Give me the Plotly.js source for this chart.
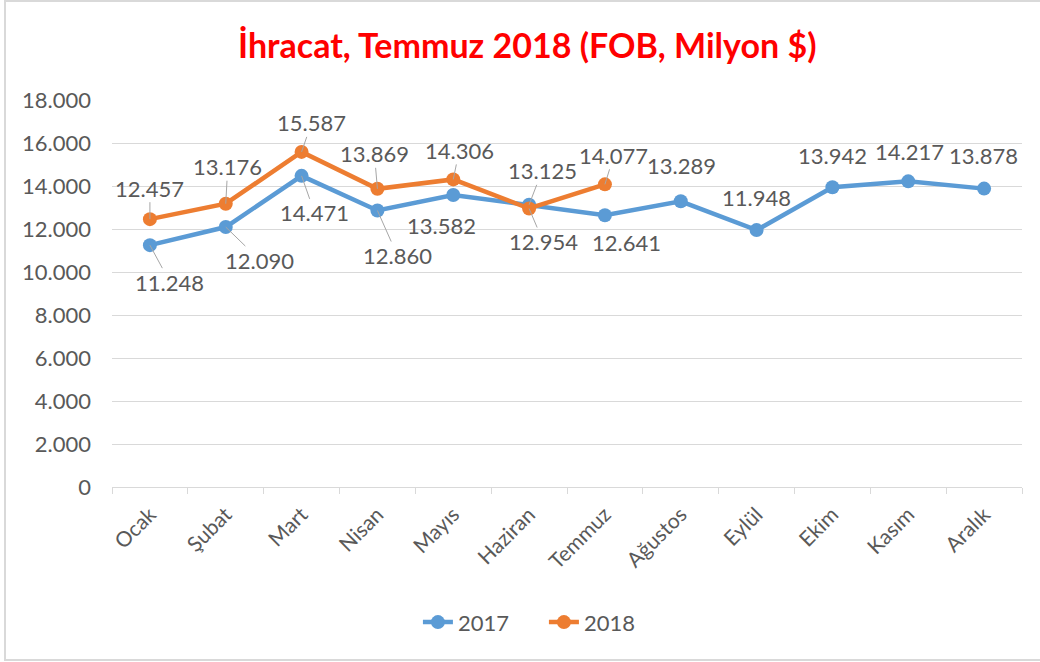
<!DOCTYPE html>
<html>
<head>
<meta charset="utf-8">
<script src="https://cdn.plot.ly/plotly-3.0.1.min.js"></script>
<style>
  html, body { margin: 0; padding: 0; background: #ffffff; overflow: hidden; }
  #chart { position: absolute; left: 0; top: 0; width: 1040px; height: 662px; }
  #frame { position: absolute; left: 4px; top: 0; width: 1100px; height: 661px;
           border: 2px solid #d9d9d9; box-sizing: border-box; pointer-events: none; }
</style>
</head>
<body>
<div id="chart"></div>
<div id="frame"></div>
<script>
const months = ["Ocak", "Şubat", "Mart", "Nisan", "Mayıs", "Haziran", "Temmuz", "Ağustos", "Eylül", "Ekim", "Kasım", "Aralık"];
const values2017 = [11248, 12090, 14471, 12860, 13582, 13125, 12641, 13289, 11948, 13942, 14217, 13878];
const months2018 = ["Ocak", "Şubat", "Mart", "Nisan", "Mayıs", "Haziran", "Temmuz"];
const values2018 = [12457, 13176, 15587, 13869, 14306, 12954, 14077];
const yTickVals = [0, 2000, 4000, 6000, 8000, 10000, 12000, 14000, 16000, 18000];
const yTickText = ["0", "2.000", "4.000", "6.000", "8.000", "10.000", "12.000", "14.000", "16.000", "18.000"];

// label placement (pixel offsets from point to label centre) and leader-line flags
const off2017 = [[20, 37, 1], [34, 33, 1], [13, 37, 1], [20, 45, 1], [-12, 31, 0], [13, -34, 1],
                 [22, 27, 0], [1, -36, 0], [0, -33, 0], [0, -32, 0], [1, -30, 0], [-1, -33, 0]];
const off2018 = [[0, -31, 1], [2, -37, 1], [10, -29, 1], [-3, -35, 1], [6, -29, 1], [14, 33, 1], [9, -29, 1]];

function fmt(v) { return v.toLocaleString('de-DE'); }

const labelFont = { family: "Lato, 'Open Sans', sans-serif", size: 22, color: "#595959" };
const annotations = [];
function addLabels(xs, ys, offs) {
  xs.forEach((x, i) => {
    const [dx, dy, lead] = offs[i];
    if (lead) {
      annotations.push({ x: x, y: ys[i], xref: 'x', yref: 'y', text: fmt(ys[i]),
        showarrow: true, arrowhead: 0, arrowwidth: 1, arrowcolor: '#a6a6a6', standoff: 0,
        ax: dx, ay: dy, font: labelFont, borderpad: 0 });
    } else {
      annotations.push({ x: x, y: ys[i], xref: 'x', yref: 'y', text: fmt(ys[i]),
        showarrow: false, xshift: dx, yshift: -dy, font: labelFont });
    }
  });
}
addLabels(months, values2017, off2017);
addLabels(months2018, values2018, off2018);

const traces = [
  { x: months, y: values2017, name: "2017", type: 'scatter', mode: 'lines+markers',
    line: { color: '#5b9bd5', width: 4.5 }, marker: { color: '#5b9bd5', size: 14 }, hoverinfo: 'none' },
  { x: months2018, y: values2018, name: "2018", type: 'scatter', mode: 'lines+markers',
    line: { color: '#ed7d31', width: 4.5 }, marker: { color: '#ed7d31', size: 14 }, hoverinfo: 'none' }
];

const layout = {
  width: 1040, height: 662,
  margin: { l: 112, r: 18, t: 100, b: 175 },
  paper_bgcolor: '#ffffff', plot_bgcolor: '#ffffff',
  font: { family: "Lato, 'Open Sans', sans-serif", color: '#595959' },
  title: { text: "İhracat, Temmuz 2018 (FOB, Milyon $)", x: 0.507, xanchor: 'center',
           y: 0.93, yref: 'container', yanchor: 'middle',
           font: { family: "Lato, 'Open Sans', sans-serif", size: 34, color: '#ff0000', weight: 'bold' } },
  xaxis: { type: 'category', categoryarray: months, categoryorder: 'array', range: [-0.5, 11.5],
           showgrid: false, showline: true, linecolor: '#d9d9d9', linewidth: 1,
           ticks: 'outside', tickson: 'boundaries', ticklen: 6, tickcolor: '#d9d9d9',
           ticklabelstandoff: 6,
           tickangle: -45, tickfont: { size: 21, color: '#595959' }, fixedrange: true },
  yaxis: { range: [0, 18000], tickvals: yTickVals, ticktext: yTickText,
           showgrid: true, gridcolor: '#d9d9d9', gridwidth: 1, zeroline: false,
           showline: false, ticks: '', ticklabelstandoff: 20,
           tickfont: { size: 22, color: '#595959' }, fixedrange: true },
  legend: { orientation: 'h', x: 0.523, xref: 'container', xanchor: 'center',
            y: 0.06, yref: 'container', yanchor: 'middle', entrywidth: 81, entrywidthmode: 'pixels',
            font: { size: 22, color: '#595959' } },
  annotations: annotations,
  showlegend: true
};

Plotly.newPlot('chart', traces, layout, { displayModeBar: false, staticPlot: true });
</script>
</body>
</html>
